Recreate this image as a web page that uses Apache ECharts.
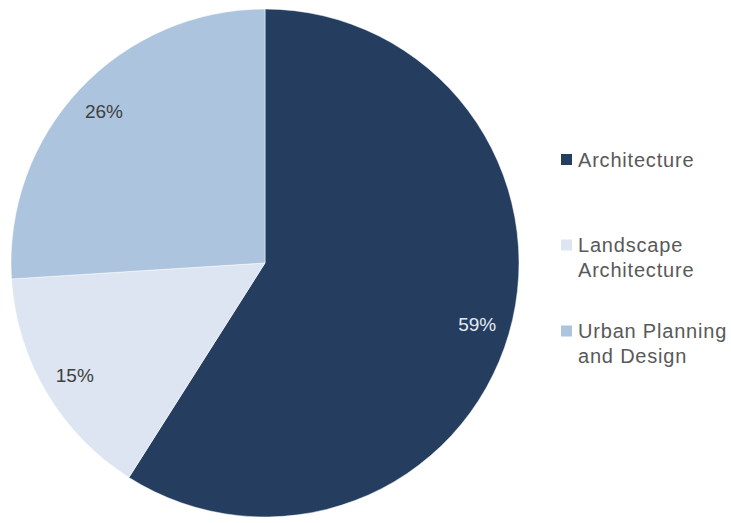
<!DOCTYPE html>
<html>
<head>
    <meta charset="utf-8">
    <title>Pie</title>
    <style>
        html, body { margin: 0; height: 100%; background: #fff; }
        #container { width: 731px; height: 523px; }
        /* 图例文字加一点字距 */
        #container svg text[fill="#595959"],
        #container svg text[style*="595959"],
        #container svg text[fill="rgb(89,89,89)"] { letter-spacing: 0.8px; }
    </style>
</head>
<body>
<div id="container"></div>
<script type="text/javascript" src="https://cdn.jsdelivr.net/npm/echarts@6/dist/echarts.min.js"></script>
<script type="text/javascript">
// 数据
var categories = ['Architecture', 'Landscape Architecture', 'Urban Planning and Design'];
var legendLabels = ['Architecture', 'Landscape\nArchitecture', 'Urban Planning\nand Design'];
var shares = [59, 15, 26];
var colors = ['#253e60', '#dce5f1', '#adc4df'];
var labelColors = ['#e4eaf3', '#404040', '#404040'];

var dom = document.getElementById('container');
var myChart = echarts.init(dom, null, { renderer: 'svg' });

var pieData = categories.map(function (name, i) {
    return { name: name, value: shares[i], itemStyle: { color: colors[i] } };
});
var labelData = categories.map(function (name, i) {
    return {
        name: name,
        value: shares[i],
        label: { color: labelColors[i] }
    };
});

// 每个图例单独放，两行的前面加一个空行让图标对齐第一行
var legendTops = [147, 207.5, 293.5];
var legends = categories.map(function (name, i) {
    var text = legendLabels[i];
    if (text.indexOf('\n') >= 0) text = '\n' + text;
    return {
        orient: 'vertical',
        left: 559,
        top: legendTops[i],
        padding: 0,
        itemWidth: 13,
        itemHeight: 13,
        itemGap: 0,
        icon: 'rect',
        selectedMode: false,
        data: [name],
        formatter: function () { return text; },
        textStyle: {
            fontFamily: 'Liberation Sans, Arial, sans-serif',
            fontSize: 20,
            lineHeight: 25,
            color: '#595959'
        }
    };
});

var option = {
    animation: false,
    legend: legends,
    series: [{
        type: 'pie',
        center: [265, 263],
        radius: 254,
        startAngle: 90,
        clockwise: true,
        silent: true,
        label: { show: false },
        labelLine: { show: false },
        itemStyle: { borderColor: '#ffffff', borderWidth: 0.5 },
        data: pieData
    }, {
        // 标签层
        type: 'pie',
        center: [265, 263],
        radius: [182, 254],
        startAngle: 90,
        clockwise: true,
        silent: true,
        itemStyle: { color: 'rgba(0,0,0,0)' },
        label: {
            show: true,
            position: 'inside',
            formatter: '{c}%',
            fontFamily: 'Liberation Sans, Arial, sans-serif',
            fontSize: 19
        },
        labelLine: { show: false },
        data: labelData
    }]
};
myChart.setOption(option);
</script>
</body>
</html>
